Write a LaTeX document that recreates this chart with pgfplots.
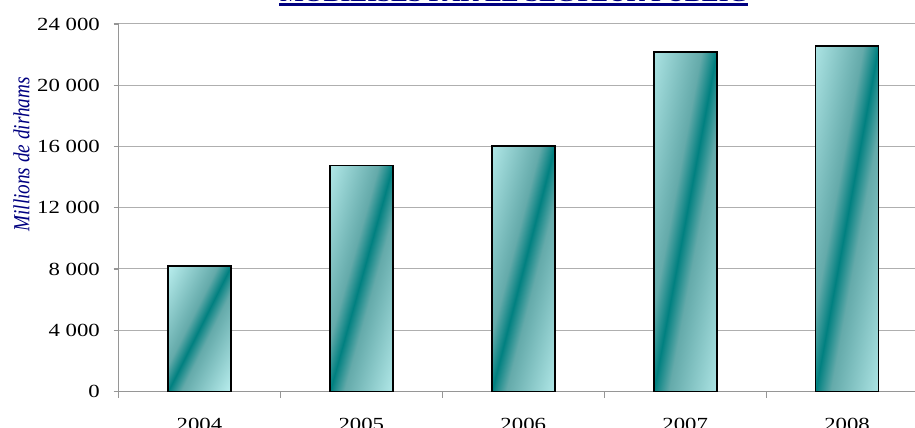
\documentclass[border=0pt]{standalone}
\usepackage{pgfplots}
\pgfplotsset{compat=1.18}
\usepackage{fontspec}
\setmainfont{Liberation Serif}[FakeStretch=1.23]
\newfontfamily\plainserif{Liberation Serif}
\definecolor{navyt}{RGB}{0,0,128}
\definecolor{lightcy}{RGB}{200,250,250}
\definecolor{midcy}{RGB}{100,170,170}
\definecolor{tealc}{RGB}{0,128,128}
\definecolor{axgray}{RGB}{150,150,150}
\definecolor{gridgray}{RGB}{175,175,175}
\pgfdeclarehorizontalshading{tealband}{100bp}{color(0bp)=(lightcy); color(12bp)=(lightcy); color(43bp)=(midcy); color(50bp)=(tealc); color(57bp)=(midcy); color(88bp)=(lightcy); color(100bp)=(lightcy)}
\pgfplotsset{tealbar/.style={ybar, bar width=63pt, bar shift=0pt, draw=black, line width=1.7pt, shading=tealband, shading angle=#1}}
\begin{document}
\begin{tikzpicture}
\useasboundingbox (0,0) rectangle (915pt,428pt);
\clip (0,0) rectangle (915pt,428pt);
\begin{axis}[
  at={(118.5pt,36.5pt)}, anchor=south west,
  scale only axis, width=809.5pt, height=367.5pt,
  xmin=-0.5, xmax=4.5, ymin=0, ymax=24000,
  axis x line=bottom, axis y line=left,
  axis line style={-, draw=axgray, line width=1.8pt},
  tick align=outside, major tick length=5pt,
  scaled y ticks=false,
  ytick={0,4000,8000,12000,16000,20000,24000},
  yticklabels={0,{4 000},{8 000},{12 000},{16 000},{20 000},{24 000}},
  ytick style={draw=axgray, line width=1.2pt},
  yticklabel style={font=\fontsize{18.5}{20}\selectfont, anchor=east, inner sep=0pt, xshift=-13.5pt},
  ymajorgrids, major grid style={draw=gridgray, line width=1pt},
  xtick={0,1,2,3,4},
  xticklabels={2004,2005,2006,2007,2008},
  xtick style={draw=none},
  xticklabel style={font=\fontsize{18.5}{20}\selectfont, anchor=base, inner sep=0pt, yshift=-34pt},
  extra x ticks={-0.5,0.5,1.5,2.5,3.5,4.5},
  extra x tick labels={},
  extra x tick style={xtick style={draw=axgray, line width=1.2pt}, major tick length=6pt, grid=none},
  clip=false,
]
\addplot[tealbar=-26.65] coordinates {(0,8200)};
\addplot[tealbar=-15.58] coordinates {(1,14750)};
\addplot[tealbar=-14.40] coordinates {(2,16030)};
\addplot[tealbar=-10.51] coordinates {(3,22170)};
\addplot[tealbar=-10.33] coordinates {(4,22560)};
\end{axis}
\node[anchor=base, text=navyt, font=\fontsize{20.6}{24}\selectfont\bfseries] at (513.5pt,426pt) {MOBILISES PAR LE SECTEUR PUBLIC};
\draw[navyt, line width=2.5pt] (279pt,423.5pt) -- (748pt,423.5pt);
\node[rotate=90, text=navyt, font=\plainserif\itshape\fontsize{19.2}{22}\selectfont, inner sep=0pt] at (21.5pt,273.5pt) {\scalebox{1}[1.2]{Millions de dirhams}};
\end{tikzpicture}
\end{document}
